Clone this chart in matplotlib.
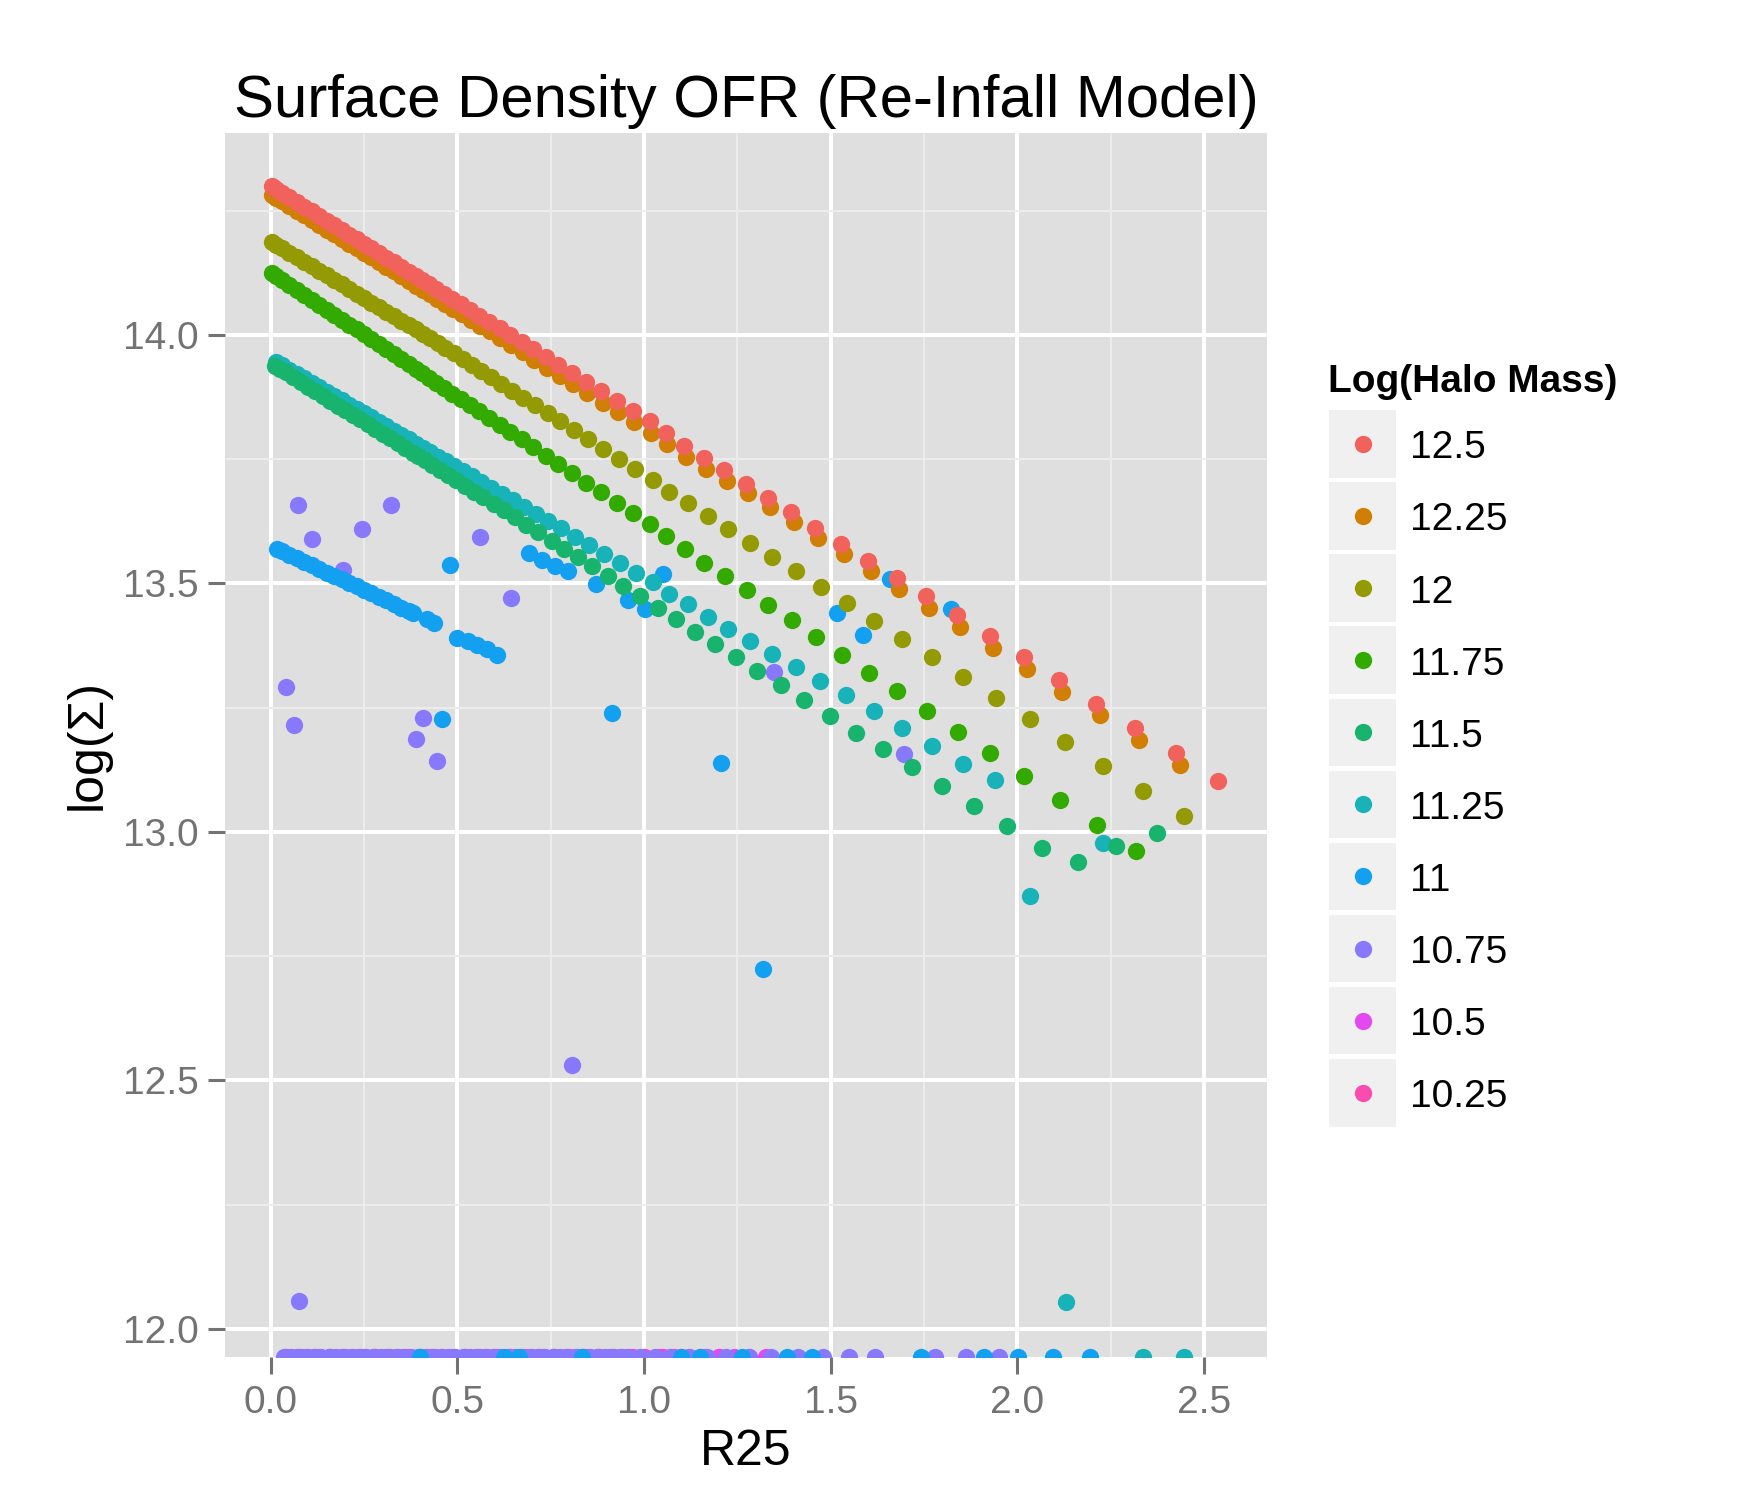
import matplotlib
matplotlib.use('Agg')
import matplotlib.pyplot as plt
from matplotlib.patches import Rectangle

plt.rcParams['font.family'] = ['Liberation Sans', 'DejaVu Sans']

NI = float('-inf')   # log10(0): ggplot2 draws these on the lower panel edge

# ---------------- data ----------------
mass_levels = ['12.5', '12.25', '12', '11.75', '11.5', '11.25', '11', '10.75', '10.5', '10.25']
mass_colors = ['#F2625C', '#D07F04', '#949A03', '#32AA00', '#18B46E',
               '#18B3B8', '#14A0F0', '#8879FC', '#E24AEF', '#FA4CAE']

x_125 = [0.003, 0.015, 0.03, 0.05, 0.07, 0.09, 0.11, 0.13, 0.15, 0.17, 0.19, 0.21, 0.23, 0.25, 0.27,
         0.29, 0.31, 0.33, 0.35, 0.37, 0.39, 0.405, 0.424, 0.444, 0.465, 0.487, 0.510, 0.534, 0.559,
         0.585, 0.613, 0.642, 0.672, 0.703, 0.737, 0.771, 0.807, 0.845, 0.885, 0.927, 0.970, 1.016,
         1.059, 1.108, 1.162, 1.215, 1.273, 1.331, 1.394, 1.459, 1.529, 1.601, 1.677, 1.755, 1.839,
         1.926, 2.017, 2.112, 2.211, 2.316, 2.425, 2.539]
y_125 = [14.299, 14.293, 14.286, 14.277, 14.267, 14.258, 14.249, 14.239, 14.230, 14.221, 14.211,
         14.202, 14.193, 14.183, 14.174, 14.165, 14.155, 14.146, 14.137, 14.127, 14.118, 14.111,
         14.102, 14.093, 14.083, 14.073, 14.062, 14.051, 14.039, 14.027, 14.014, 14.000, 13.986,
         13.972, 13.956, 13.940, 13.923, 13.905, 13.887, 13.867, 13.847, 13.826, 13.802, 13.777,
         13.753, 13.728, 13.701, 13.672, 13.643, 13.612, 13.580, 13.545, 13.510, 13.475, 13.436,
         13.394, 13.351, 13.306, 13.258, 13.209, 13.158, 13.103]

x_1225 = [0.003, 0.015, 0.03, 0.05, 0.07, 0.09, 0.11, 0.13, 0.15, 0.17, 0.19, 0.21, 0.23, 0.25, 0.27,
          0.29, 0.31, 0.33, 0.35, 0.37, 0.39, 0.407, 0.426, 0.446, 0.467, 0.489, 0.512, 0.536, 0.561,
          0.587, 0.615, 0.645, 0.675, 0.706, 0.740, 0.774, 0.810, 0.848, 0.889, 0.931, 0.974, 1.020,
          1.063, 1.113, 1.166, 1.222, 1.278, 1.338, 1.401, 1.466, 1.536, 1.609, 1.684, 1.763, 1.847,
          1.934, 2.026, 2.121, 2.221, 2.326, 2.436]
y_1225 = [14.282, 14.276, 14.269, 14.259, 14.250, 14.241, 14.231, 14.222, 14.212, 14.203, 14.194,
          14.184, 14.175, 14.165, 14.156, 14.146, 14.137, 14.128, 14.118, 14.109, 14.099, 14.091,
          14.082, 14.073, 14.063, 14.053, 14.042, 14.031, 14.019, 14.007, 13.993, 13.979, 13.965,
          13.950, 13.934, 13.918, 13.901, 13.884, 13.864, 13.844, 13.824, 13.803, 13.780, 13.755,
          13.730, 13.706, 13.681, 13.653, 13.624, 13.591, 13.560, 13.525, 13.489, 13.450, 13.412,
          13.371, 13.327, 13.282, 13.235, 13.185, 13.134]

x_12 = [0.003, 0.015, 0.03, 0.05, 0.07, 0.09, 0.11, 0.13, 0.15, 0.17, 0.19, 0.21, 0.23, 0.25, 0.27,
        0.29, 0.31, 0.33, 0.35, 0.37, 0.39, 0.408, 0.427, 0.447, 0.468, 0.490, 0.514, 0.538, 0.563,
        0.589, 0.617, 0.646, 0.677, 0.708, 0.742, 0.776, 0.813, 0.851, 0.891, 0.933, 0.977, 1.023,
        1.068, 1.119, 1.172, 1.226, 1.284, 1.343, 1.407, 1.473, 1.543, 1.616, 1.692, 1.771, 1.854,
        1.943, 2.035, 2.129, 2.230, 2.336, 2.446]
y_12 = [14.187, 14.181, 14.174, 14.165, 14.156, 14.147, 14.138, 14.129, 14.120, 14.111, 14.102,
        14.092, 14.083, 14.074, 14.065, 14.056, 14.047, 14.038, 14.029, 14.020, 14.011, 14.002,
        13.993, 13.983, 13.973, 13.963, 13.951, 13.940, 13.928, 13.915, 13.902, 13.888, 13.873,
        13.859, 13.842, 13.826, 13.808, 13.790, 13.771, 13.751, 13.730, 13.708, 13.685, 13.661,
        13.636, 13.609, 13.582, 13.554, 13.525, 13.493, 13.460, 13.425, 13.389, 13.351, 13.311,
        13.269, 13.227, 13.180, 13.133, 13.083, 13.032]

x_1175 = [0.003, 0.015, 0.03, 0.05, 0.07, 0.09, 0.11, 0.13, 0.15, 0.17, 0.19, 0.21, 0.23, 0.25, 0.27,
          0.29, 0.31, 0.33, 0.35, 0.37, 0.39, 0.405, 0.424, 0.444, 0.465, 0.487, 0.510, 0.534, 0.559,
          0.585, 0.613, 0.642, 0.672, 0.703, 0.737, 0.771, 0.807, 0.845, 0.885, 0.927, 0.970, 1.016,
          1.059, 1.110, 1.162, 1.217, 1.275, 1.333, 1.396, 1.462, 1.530, 1.603, 1.679, 1.758, 1.841,
          1.928, 2.019, 2.114, 2.213, 2.318]
y_1175 = [14.124, 14.118, 14.111, 14.101, 14.091, 14.081, 14.071, 14.061, 14.051, 14.041, 14.031,
          14.021, 14.011, 14.001, 13.991, 13.981, 13.971, 13.961, 13.951, 13.941, 13.931, 13.923,
          13.914, 13.904, 13.893, 13.882, 13.871, 13.859, 13.846, 13.833, 13.819, 13.805, 13.790,
          13.774, 13.757, 13.740, 13.722, 13.703, 13.683, 13.662, 13.641, 13.619, 13.595, 13.569,
          13.542, 13.515, 13.487, 13.457, 13.426, 13.392, 13.357, 13.320, 13.283, 13.243, 13.201,
          13.158, 13.113, 13.064, 13.014, 12.962]

x_115 = [0.012, 0.025, 0.04, 0.06, 0.08, 0.10, 0.12, 0.14, 0.16, 0.18, 0.20, 0.22, 0.24, 0.26, 0.28,
         0.30, 0.32, 0.34, 0.36, 0.38, 0.395, 0.413, 0.433, 0.453, 0.474, 0.497, 0.520, 0.544, 0.570,
         0.597, 0.625, 0.654, 0.685, 0.717, 0.753, 0.787, 0.822, 0.860, 0.903, 0.944, 0.989, 1.037,
         1.086, 1.137, 1.190, 1.246, 1.304, 1.366, 1.429, 1.498, 1.567, 1.641, 1.718, 1.799, 1.884,
         1.973, 2.066, 2.163, 2.265, 2.373]
y_115 = [13.938, 13.932, 13.925, 13.915, 13.906, 13.896, 13.887, 13.877, 13.868, 13.858, 13.849,
         13.839, 13.830, 13.820, 13.811, 13.801, 13.792, 13.782, 13.773, 13.763, 13.756, 13.748,
         13.738, 13.729, 13.719, 13.708, 13.697, 13.685, 13.673, 13.660, 13.647, 13.633, 13.618,
         13.604, 13.586, 13.570, 13.553, 13.535, 13.515, 13.495, 13.474, 13.451, 13.428, 13.403,
         13.378, 13.351, 13.323, 13.296, 13.265, 13.234, 13.200, 13.166, 13.130, 13.092, 13.052,
         13.011, 12.968, 12.940, 12.971, 12.997]

x_1125 = [0.014, 0.03, 0.05, 0.07, 0.09, 0.11, 0.13, 0.15, 0.17, 0.19, 0.21, 0.23, 0.25, 0.27, 0.29,
          0.31, 0.33, 0.35, 0.37, 0.39, 0.409, 0.428, 0.449, 0.470, 0.492, 0.515, 0.539, 0.564, 0.591,
          0.619, 0.648, 0.678, 0.710, 0.743, 0.778, 0.815, 0.853, 0.893, 0.935, 0.979, 1.025, 1.068,
          1.119, 1.171, 1.226, 1.284, 1.342, 1.406, 1.472, 1.542, 1.615, 1.690, 1.771, 1.854, 1.941,
          2.033, 2.131, 2.229, 2.336, 2.447]
y_1125 = [13.946, 13.939, 13.930, 13.921, 13.913, 13.904, 13.895, 13.886, 13.878, 13.869, 13.860,
          13.851, 13.842, 13.834, 13.825, 13.816, 13.807, 13.798, 13.790, 13.781, 13.773, 13.764,
          13.755, 13.746, 13.736, 13.726, 13.716, 13.705, 13.693, 13.680, 13.668, 13.654, 13.640,
          13.626, 13.611, 13.594, 13.578, 13.560, 13.542, 13.522, 13.502, 13.479, 13.458, 13.433,
          13.408, 13.384, 13.359, 13.331, 13.303, 13.275, 13.243, 13.210, 13.173, 13.137, 13.105,
          12.871, 12.054, 12.977, NI, NI]

x_11 = [0.016, 0.03, 0.05, 0.07, 0.09, 0.11, 0.13, 0.15, 0.17, 0.19, 0.21, 0.23, 0.25, 0.27, 0.29,
        0.31, 0.33, 0.35, 0.37, 0.382, 0.418, 0.438, 0.500, 0.528, 0.552, 0.579, 0.605,
        0.480, 0.458, 0.693, 0.726, 0.762, 0.796, 0.871, 0.913, 0.958, 1.003, 1.050, 1.206, 1.320,
        1.516, 1.588, 1.660, 1.822,
        0.400, 0.626, 0.664, 0.833, 1.100, 1.151, 1.262, 1.383, 1.449, 1.743, 1.911, 2.001, 2.095,
        2.194]
y_11 = [13.570, 13.565, 13.558, 13.551, 13.544, 13.537, 13.530, 13.522, 13.515, 13.508, 13.501,
        13.494, 13.487, 13.480, 13.473, 13.466, 13.459, 13.451, 13.444, 13.440, 13.428, 13.420,
        13.391, 13.385, 13.377, 13.369, 13.357,
        13.537, 13.227, 13.562, 13.548, 13.536, 13.525, 13.498, 13.240, 13.466, 13.448, 13.518,
        13.139, 12.725, 13.440, 13.397, 13.509, 13.449,
        NI, NI, NI, NI, NI, NI, NI, NI, NI, NI, NI, NI, NI, NI]

x_1075 = [0.074, 0.112, 0.244, 0.322, 0.195, 0.562, 0.644, 0.040, 0.062, 0.407, 0.388, 0.446,
          0.077, 0.808, 1.347, 1.697]
y_1075 = [13.657, 13.590, 13.610, 13.657, 13.527, 13.594, 13.470, 13.292, 13.215, 13.229, 13.186,
          13.143, 12.056, 12.530, 13.322, 13.156]
x_1075_zero = [0.035, 0.055, 0.075, 0.095, 0.115, 0.135, 0.155, 0.175, 0.195, 0.215, 0.235, 0.255,
               0.275, 0.295, 0.315, 0.335, 0.355, 0.375, 0.395, 0.415, 0.435, 0.455, 0.475, 0.495,
               0.515, 0.535, 0.555, 0.575, 0.595, 0.615, 0.635, 0.655, 0.675, 0.695, 0.715, 0.735,
               0.755, 0.775, 0.795, 0.815, 0.835, 0.855, 0.875, 0.895, 0.915, 0.935, 0.955, 0.99,
               1.03, 1.07, 1.12, 1.17, 1.22, 1.28, 1.34, 1.413, 1.480, 1.549, 1.620, 1.780, 1.862,
               1.951]

x_105_zero = [0.04, 0.07, 0.10, 0.13, 0.16, 0.19, 0.22, 0.25, 0.28, 0.31, 0.34, 0.37, 0.40, 0.43,
              0.46, 0.49, 0.52, 0.55, 0.58, 0.61, 0.64, 0.67, 0.70, 0.73, 0.76, 0.79, 0.82, 0.85,
              0.88, 0.91, 0.94, 0.97, 1.00, 1.04, 1.08, 1.12, 1.16, 1.20, 1.24, 1.28, 1.326]

x_1025_zero = [0.04, 0.08, 0.12, 0.16, 0.20, 0.24, 0.28, 0.32, 0.36, 0.40, 0.44, 0.48, 0.52, 0.56,
               0.60, 0.64, 0.68, 0.72, 0.76, 0.80, 0.84, 0.88, 0.92, 0.96, 1.00, 1.05, 1.10, 1.15,
               1.20]

series = {
    '12.5': (x_125, y_125),
    '12.25': (x_1225, y_1225),
    '12': (x_12, y_12),
    '11.75': (x_1175, y_1175),
    '11.5': (x_115, y_115),
    '11.25': (x_1125, y_1125),
    '11': (x_11, y_11),
    '10.75': (x_1075 + x_1075_zero, y_1075 + [NI] * len(x_1075_zero)),
    '10.5': (x_105_zero, [NI] * len(x_105_zero)),
    '10.25': (x_1025_zero, [NI] * len(x_1025_zero)),
}

x_ticks = [0.0, 0.5, 1.0, 1.5, 2.0, 2.5]
x_tick_labels = ['0.0', '0.5', '1.0', '1.5', '2.0', '2.5']
y_ticks = [12.0, 12.5, 13.0, 13.5, 14.0]
y_tick_labels = ['12.0', '12.5', '13.0', '13.5', '14.0']

# ---------------- figure ----------------
W, H = 1743, 1511
fig = plt.figure(figsize=(W / 100, H / 100), dpi=100)
fig.patch.set_facecolor('white')

PL, PR, PT, PB = 225, 1267, 132.7, 1356.7
ax = fig.add_axes([PL / W, 1 - PB / H, (PR - PL) / W, (PB - PT) / H])
ax.set_facecolor('#DFDFDF')
XLIM = (-0.1224, 2.669)
YLIM = (11.944, 14.407)
ax.set_xlim(*XLIM)
ax.set_ylim(*YLIM)
for s in ax.spines.values():
    s.set_visible(False)

ax.set_xticks(x_ticks)
ax.set_xticklabels(x_tick_labels)
ax.set_yticks(y_ticks)
ax.set_yticklabels(y_tick_labels)
ax.set_xticks([0.25, 0.75, 1.25, 1.75, 2.25], minor=True)
ax.set_yticks([12.25, 12.75, 13.25, 13.75, 14.25], minor=True)
ax.grid(True, which='major', color='white', linewidth=2.9)
ax.grid(True, which='minor', color='#EDEDED', linewidth=1.4)
ax.set_axisbelow(True)
ax.tick_params(which='major', length=12.2, width=2.2, color='#737373',
               labelsize=28, labelcolor='#737373')
ax.tick_params(axis='x', which='major', pad=8)
ax.tick_params(axis='y', which='major', pad=7)
ax.tick_params(which='minor', length=0)

SIZE = 155
# draw in order of increasing halo mass (as in the reference)
for lvl, col in reversed(list(zip(mass_levels, mass_colors))):
    xs, ys = series[lvl]
    ys_plot = [YLIM[0] if v == NI else v for v in ys]
    ax.scatter(xs, ys_plot, s=SIZE, c=col, linewidths=0, clip_on=True, zorder=3)

# ---------------- texts ----------------
def fx(px):
    return px / W

def fy(py):
    return 1 - py / H

fig.text(fx(746), fy(117), 'Surface Density OFR (Re-Infall Model)', fontsize=43.2,
         ha='center', va='baseline', color='black')
fig.text(fx(746), fy(1465), 'R25', fontsize=36, ha='center', va='baseline', color='black')
fig.text(fx(88), fy(745), 'log(Σ)', fontsize=36, ha='center', va='center',
         rotation=90, color='black')

# ---------------- legend ----------------
lax = fig.add_axes([0, 0, 1, 1])
lax.set_xlim(0, W)
lax.set_ylim(H, 0)
lax.axis('off')
lax.text(1328, 391.7, 'Log(Halo Mass)', fontsize=28, fontweight='bold',
         ha='left', va='baseline', color='black')
KX0, KW, KH, KP, KY0 = 1329, 67.5, 67.5, 72.1, 410.1
for i, (lvl, col) in enumerate(zip(mass_levels, mass_colors)):
    top = KY0 + i * KP
    lax.add_patch(Rectangle((KX0, top), KW, KH, facecolor='#F0F0F0', edgecolor='none'))
    cy = top + KH / 2
    lax.scatter([KX0 + KW / 2], [cy], s=SIZE, c=col, linewidths=0)
    lax.text(1410, cy + 14.5, lvl, fontsize=28, ha='left', va='baseline', color='black')

fig.savefig('out.png', dpi=100)
